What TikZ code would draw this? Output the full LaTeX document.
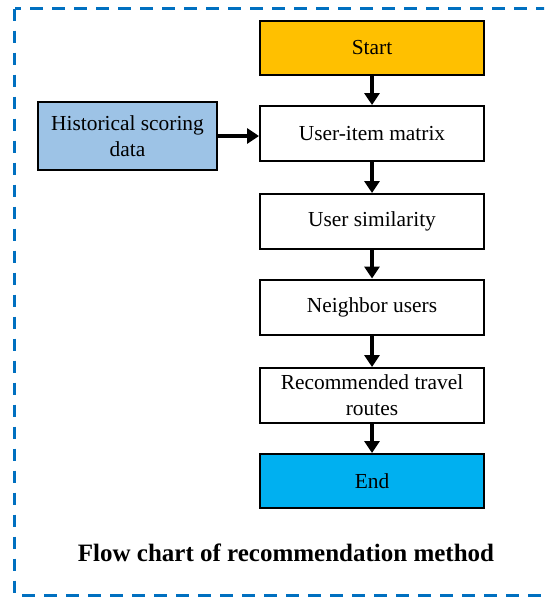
\documentclass[tikz,border=0pt]{standalone}
\usepackage{fontspec}
\setmainfont{Liberation Serif}
\usetikzlibrary{arrows.meta}
\definecolor{startc}{HTML}{FFC000}
\definecolor{histc}{HTML}{9DC3E6}
\definecolor{endc}{HTML}{00B0F0}
\definecolor{framec}{HTML}{0070C0}
\begin{document}
\begin{tikzpicture}[x=1pt,y=-1pt,
  flowbox/.style={draw=black,line width=2pt,minimum width=224pt,minimum height=55pt,inner sep=2pt,align=center,
    font=\fontsize{21.4}{26}\selectfont},
  flowarrow/.style={line width=3.6pt,-{Triangle[length=12pt,width=15pt]}}]
\useasboundingbox (0,0) rectangle (544,597);
\clip (0,0) rectangle (544,597);
\draw[framec,line width=3pt,dash pattern=on 12.5pt off 9.5pt] (14.5,8.5) rectangle (575,595);
\node[flowbox,fill=startc,minimum height=54pt] (start) at (372,48) {Start};
\node[flowbox,fill=white] (uim) at (372,133.5) {User-item matrix};
\node[flowbox,fill=histc,minimum width=179pt,minimum height=68pt] (hist) at (127.5,136) {Historical scoring\\data};
\node[flowbox,fill=white] (usim) at (372,221.5) {User similarity};
\node[flowbox,fill=white] (nb) at (372,307) {Neighbor users};
\node[flowbox,fill=white] (rec) at (372,395.5) {Recommended travel\\routes};
\node[flowbox,fill=endc,minimum height=54pt] (endn) at (372,481) {End};
\node[font=\bfseries\fontsize{25}{30}\selectfont] (cap) at (286,553) {Flow chart of recommendation method};
\draw[flowarrow] (start) -- (uim);
\draw[flowarrow] (hist.east) -- (hist.east -| uim.west);
\draw[flowarrow] (uim) -- (usim);
\draw[flowarrow] (usim) -- (nb);
\draw[flowarrow] (nb) -- (rec);
\draw[flowarrow] (rec) -- (endn);
\end{tikzpicture}
\end{document}
